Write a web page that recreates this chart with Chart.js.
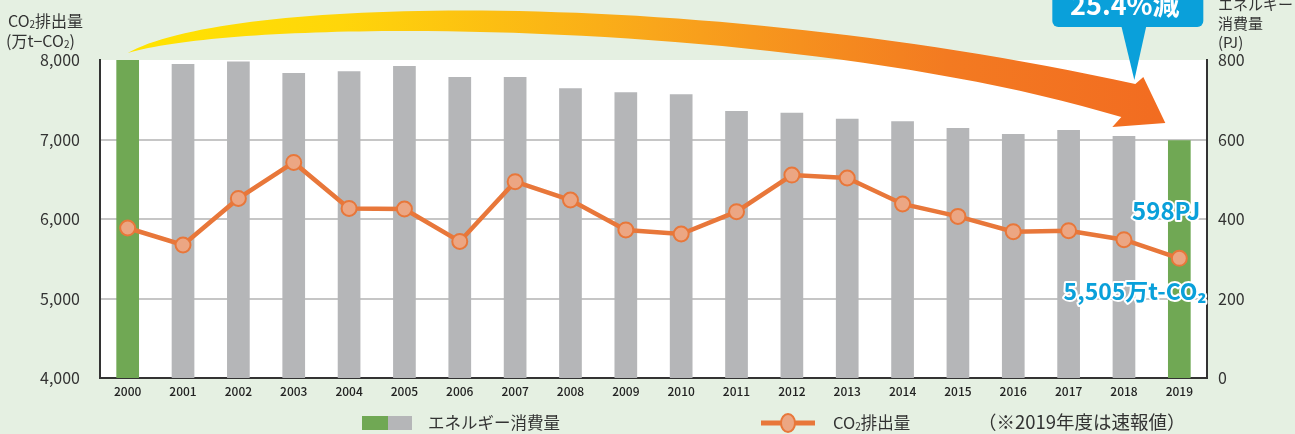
<!DOCTYPE html>
<html lang="ja">
<head>
<meta charset="utf-8">
<title>CO2排出量とエネルギー消費量</title>
<script src="https://cdn.jsdelivr.net/npm/chart.js@4.4.0/dist/chart.umd.min.js"></script>
<style>
  html, body { margin: 0; padding: 0; background: #e5f0e2; }
  #wrap { width: 1295px; height: 434px; }
</style>
</head>
<body>
<div id="wrap"><canvas id="chart" width="1295" height="434"></canvas></div>
<script>
// data
const years = ['2000', '2001', '2002', '2003', '2004', '2005', '2006', '2007', '2008', '2009',
               '2010', '2011', '2012', '2013', '2014', '2015', '2016', '2017', '2018', '2019'];
const energyPJ = [800, 790, 796, 767, 772, 785, 757, 757, 729, 719,
                  714, 672, 667, 652, 646, 629, 614, 624, 609, 598];
const co2Emission = [5887, 5673, 6259, 6712, 6133, 6126, 5718, 6469, 6239, 5862,
                     5811, 6092, 6553, 6516, 6189, 6033, 5840, 5853, 5740, 5505];
const highlightYears = ['2000', '2019'];

const leftTitle = [[['CO', false], ['2', true], ['排出量', false]], [['(万t−CO', false], ['2', true], [')', false]]];
const rightTitle = ['エネルギー', '消費量', '(PJ)'];
const energyLabel = 'エネルギー消費量';
const co2Label = 'CO₂排出量';
const noteText = '（※2019年度は速報値）';
const reductionText = '25.4%減';
const lastEnergyText = '598PJ';
const lastCo2Text = '5,505万t-CO₂';

const FONT = "'Noto Sans CJK JP', 'Noto Sans', sans-serif";
const GREEN = '#70a854';
const GREY = '#b5b6b8';
const ORANGE = '#e8773a';
const BLUE = '#0aa0da';

function drawSubText(ctx, parts, x, y, size) {
    let cx = x;
    parts.forEach(([txt, sub]) => {
        ctx.font = (sub ? Math.round(size * 0.6) : size) + 'px ' + FONT;
        ctx.fillText(txt, cx, sub ? y + size * 0.2 : y);
        cx += ctx.measureText(txt).width;
    });
}

const decorations = {
    id: 'decorations',
    beforeDraw(chart) {
        const ctx = chart.ctx;
        const a = chart.chartArea;
        ctx.save();
        ctx.fillStyle = '#e5f0e2';
        ctx.fillRect(0, 0, chart.width, chart.height);
        ctx.fillStyle = '#ffffff';
        ctx.fillRect(a.left, a.top, a.right - a.left, a.bottom - a.top);
        ctx.restore();
    },
    afterDraw(chart) {
        const ctx = chart.ctx;
        const a = chart.chartArea;
        const xs = chart.scales.x;
        const y = chart.scales.y;
        const y1 = chart.scales.y1;
        const x0 = xs.getPixelForValue(0);
        const xe = xs.getPixelForValue(years.length - 1);
        const top = a.top;
        ctx.save();

        // axis titles
        ctx.fillStyle = '#333';
        ctx.textBaseline = 'middle';
        ctx.textAlign = 'left';
        drawSubText(ctx, leftTitle[0], 8, 21, 16);
        drawSubText(ctx, leftTitle[1], 6, 41, 16);
        ctx.font = '15px ' + FONT;
        rightTitle.forEach((t, i) => ctx.fillText(t, a.right + 11, 4 + i * 19));

        // big curved arrow
        const g = ctx.createLinearGradient(x0, 0, xe, 0);
        g.addColorStop(0, '#ffe400');
        g.addColorStop(0.2, '#ffd60a');
        g.addColorStop(0.5, '#f9a61b');
        g.addColorStop(0.78, '#f37a21');
        g.addColorStop(1, '#f26b21');
        ctx.fillStyle = g;
        ctx.beginPath();
        ctx.moveTo(x0, top - 7);
        ctx.bezierCurveTo(x0 + 102, top - 65, xe - 479, top - 72, xe - 44, top + 24);
        ctx.lineTo(xe - 36, top + 17);
        ctx.lineTo(xe - 14, top + 63);
        ctx.lineTo(xe - 67, top + 67);
        ctx.lineTo(xe - 58, top + 57);
        ctx.bezierCurveTo(xe - 379, top - 40, x0 + 132, top - 45, x0, top - 7);
        ctx.closePath();
        ctx.fill();

        // callout bubble
        const bx = xe - 127, bw = 151, by = -12, bh = 39, r = 6;
        ctx.fillStyle = BLUE;
        ctx.beginPath();
        ctx.roundRect(bx, by, bw, bh, r);
        ctx.fill();
        ctx.beginPath();
        ctx.moveTo(xe - 58, by + bh - 1);
        ctx.lineTo(xe - 33, by + bh - 1);
        ctx.lineTo(xe - 45, top + 20);
        ctx.closePath();
        ctx.fill();
        ctx.fillStyle = '#fff';
        ctx.font = 'bold 27px ' + FONT;
        ctx.textAlign = 'center';
        ctx.textBaseline = 'alphabetic';
        ctx.fillText(reductionText, bx + bw / 2 - 3, 15);

        // end-value labels
        ctx.textAlign = 'right';
        ctx.textBaseline = 'middle';
        ctx.lineJoin = 'round';
        ctx.lineWidth = 4;
        ctx.strokeStyle = '#fff';
        ctx.fillStyle = BLUE;
        ctx.font = 'bold 24px ' + FONT;
        const ey = y1.getPixelForValue(energyPJ[energyPJ.length - 1]) + 71;
        ctx.strokeText(lastEnergyText, xe + 21, ey);
        ctx.fillText(lastEnergyText, xe + 21, ey);
        ctx.font = 'bold 23px ' + FONT;
        const cy = y.getPixelForValue(co2Emission[co2Emission.length - 1]) + 33;
        ctx.strokeText(lastCo2Text, xe + 27, cy);
        ctx.fillText(lastCo2Text, xe + 27, cy);

        // legend
        const ly = 423;
        ctx.fillStyle = GREEN;
        ctx.fillRect(362, ly - 7, 26, 14);
        ctx.fillStyle = GREY;
        ctx.fillRect(388, ly - 7, 24, 14);
        ctx.fillStyle = '#333';
        ctx.font = '16.5px ' + FONT;
        ctx.textAlign = 'left';
        ctx.fillText(energyLabel, 428, ly);
        ctx.strokeStyle = ORANGE;
        ctx.lineWidth = 5;
        ctx.beginPath();
        ctx.moveTo(761, ly);
        ctx.lineTo(815, ly);
        ctx.stroke();
        ctx.beginPath();
        ctx.ellipse(788, ly, 7, 9, 0, 0, Math.PI * 2);
        ctx.fillStyle = '#eca683';
        ctx.fill();
        ctx.lineWidth = 2;
        ctx.stroke();
        ctx.fillStyle = '#333';
        drawSubText(ctx, [['CO', false], ['2', true], ['排出量', false]], 833, ly, 16.5);
        ctx.font = '18.5px ' + FONT;
        ctx.fillText(noteText, 978, ly - 1);
        ctx.restore();
    }
};

const ctx = document.getElementById('chart').getContext('2d');
new Chart(ctx, {
    data: {
        labels: years,
        datasets: [{
            type: 'line',
            label: co2Label,
            data: co2Emission,
            yAxisID: 'y',
            order: 0,
            borderColor: ORANGE,
            borderWidth: 4.5,
            pointRadius: 7.5,
            pointBackgroundColor: '#eca683',
            pointBorderColor: ORANGE,
            pointBorderWidth: 2,
            tension: 0
        }, {
            type: 'bar',
            label: energyLabel,
            data: energyPJ,
            yAxisID: 'y1',
            order: 1,
            backgroundColor: years.map(yr => highlightYears.includes(yr) ? GREEN : GREY),
            barPercentage: 0.41,
            categoryPercentage: 1
        }]
    },
    plugins: [decorations],
    options: {
        responsive: false,
        animation: false,
        layout: { padding: { top: 60 } },
        plugins: {
            legend: { display: false },
            tooltip: { enabled: false }
        },
        scales: {
            x: {
                grid: { display: false, drawTicks: false },
                border: { color: '#333', width: 2 },
                ticks: { color: '#222', font: { family: FONT, size: 12, weight: '500' }, padding: 6, maxRotation: 0 },
                afterFit: s => { s.height = 56; }
            },
            y: {
                position: 'left',
                min: 4000,
                max: 8000,
                grid: {
                    drawTicks: false,
                    lineWidth: 2,
                    color: c => (c.tick && c.tick.value > 4000 && c.tick.value < 8000) ? '#c6c6c6' : 'rgba(0,0,0,0)'
                },
                border: { color: '#333', width: 2 },
                ticks: {
                    stepSize: 1000,
                    padding: 20,
                    color: '#333',
                    font: { family: FONT, size: 16 },
                    callback: v => v.toLocaleString('en-US')
                },
                afterFit: s => { s.width = 100; }
            },
            y1: {
                position: 'right',
                min: 0,
                max: 800,
                grid: { display: false, drawTicks: false },
                border: { color: '#333', width: 2 },
                ticks: { stepSize: 200, padding: 11, color: '#333', font: { family: FONT, size: 16 } },
                afterFit: s => { s.width = 88; }
            }
        }
    }
});
</script>
</body>
</html>
